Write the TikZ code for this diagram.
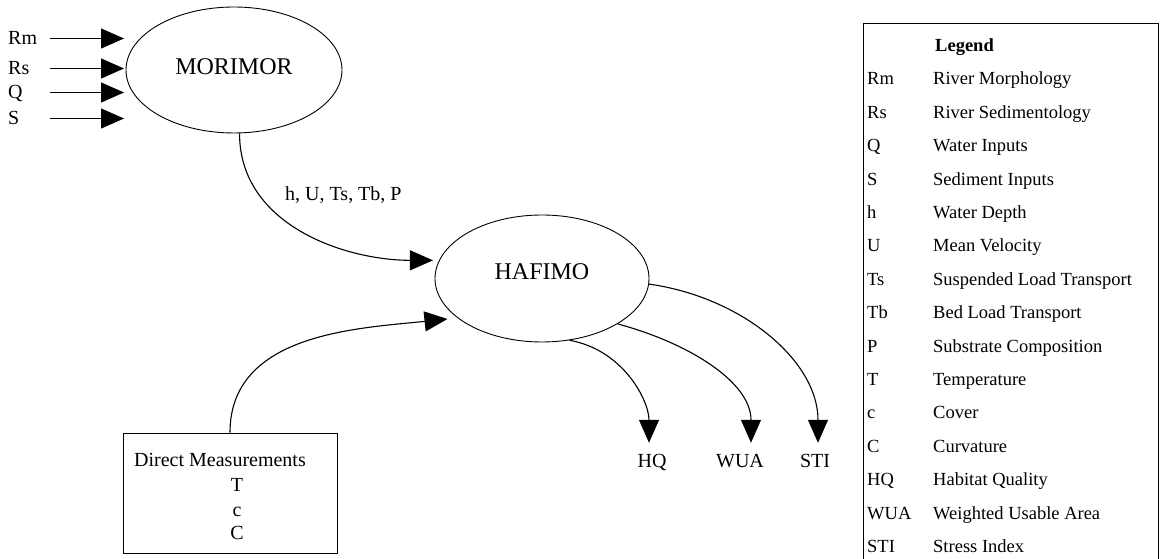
\documentclass[tikz,border=0pt]{standalone}
\usepackage{fontspec}
\setmainfont{Liberation Serif}
\usetikzlibrary{shapes.geometric,arrows.meta}
\begin{document}
\begin{tikzpicture}[x=1pt,y=1pt,
 model/.style={draw, ellipse, line width=0.9pt, inner sep=0pt, font=\fontsize{24}{28}\selectfont},
 lab/.style={inner sep=0pt, font=\fontsize{20}{24}\selectfont, text height=13pt, text depth=0pt},
 flow/.style={line width=1.1pt, -{Triangle[length=23pt,width=20pt]}},
 legtxt/.style={inner sep=0pt, anchor=base west, font=\fontsize{18.5}{22}\selectfont},
 box/.style={draw, line width=0.9pt, inner sep=0pt}
]
\useasboundingbox (0,0) rectangle (1162,559);
% models
\node[model, minimum width=216pt, minimum height=126pt, text depth=6pt] (mor) at (234,489) {MORIMOR};
\node[model, minimum width=214pt, minimum height=127pt, text depth=13pt] (haf) at (542,280.5) {HAFIMO};
% inputs
\node[lab, anchor=base west] (rm) at (8,514) {Rm};
\node[lab, anchor=base west] (rs) at (8,484) {Rs};
\node[lab, anchor=base west] (q) at (8,460) {Q};
\node[lab, anchor=base west] (s) at (8,434) {S};
\coordinate (s0) at (50,0);
\coordinate (t0) at (124,0);
\foreach \n in {rm,rs,q,s} {
  \draw[flow] (\n.east -| s0) -- (\n.east -| t0);
}
% MORIMOR -> HAFIMO
\node[lab, anchor=base west] (hlab) at (285,358) {h, U, Ts, Tb, P};
\draw[flow, shorten >=6pt] (mor.-85) to[out=-90,in=180] (haf.170);
% direct measurements
\node[box, minimum width=214pt, minimum height=120pt] (dm) at (230,66) {};
\node[lab, anchor=base] (dmt) at (220,92) {Direct Measurements};
\node[lab, anchor=base] (dmT) at (237,67) {T};
\node[lab, anchor=base] (dmc) at (237,42) {c};
\node[lab, anchor=base] (dmC) at (237,19) {C};
\draw[flow, shorten >=10pt] (dm.north) to[out=90,in=186] (haf.205);
% outputs
\node[lab, anchor=base] (hq) at (652,91) {HQ};
\node[lab, anchor=base] (wua) at (740,91) {WUA};
\node[lab, anchor=base] (sti) at (815,91) {STI};
\draw[flow, shorten >=12pt] (haf.-66) to[out=-10,in=90] ([xshift=-3pt]hq.north);
\draw[flow, shorten >=12pt] (haf.-31) to[out=-15,in=90] ([xshift=11pt]wua.north);
\draw[flow, shorten >=12pt] (haf.-3) to[out=-8,in=90] ([xshift=3pt]sti.north);
% legend (its lower edge runs off the page)
\node[box, minimum width=295pt, minimum height=545pt] (legend) at (1010.5,263.5) {};
\node[legtxt, font=\bfseries\fontsize{18.5}{22}\selectfont] (legt) at (935,507) {Legend};
\foreach \a/\d [count=\i] in {Rm/River Morphology, Rs/River Sedimentology, Q/Water Inputs, S/Sediment Inputs, h/Water Depth, U/Mean Velocity, Ts/Suspended Load Transport, Tb/Bed Load Transport, P/Substrate Composition, T/Temperature, c/Cover, C/Curvature, HQ/Habitat Quality, WUA/Weighted Usable Area, STI/Stress Index} {
  \node[legtxt] (lk\i) at (867,{474-(\i-1)*33.4}) {\a};
  \node[legtxt] (ld\i) at (933,{474-(\i-1)*33.4}) {\d};
}
\end{tikzpicture}
\end{document}
